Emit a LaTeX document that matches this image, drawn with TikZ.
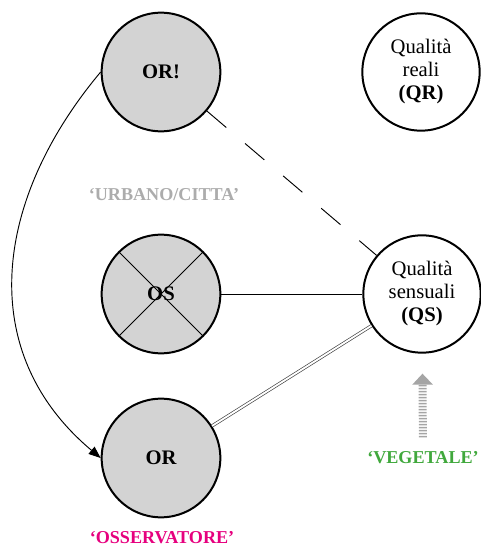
\documentclass[tikz,border=0pt]{standalone}
\usepackage{fontspec}
\setmainfont{Liberation Serif}
\usetikzlibrary{arrows.meta}
\definecolor{fillgray}{RGB}{211,211,211}
\definecolor{urbangray}{RGB}{172,172,172}
\definecolor{greenveg}{RGB}{64,168,60}
\definecolor{magentaobs}{RGB}{230,0,126}
\definecolor{arrowgray}{RGB}{165,165,165}

\begin{document}
\begin{tikzpicture}[x=0.75pt, y=0.75pt,
    obj/.style={circle, draw, line width=1.5pt, fill=fillgray,
                minimum size=89pt, inner sep=0pt,
                font=\fontsize{15.5}{17.25}\selectfont\bfseries},
    qual/.style={circle, draw, line width=1.5pt, fill=white,
                 minimum size=88pt, inner sep=0pt, align=center,
                 font=\fontsize{15.5}{17.25}\selectfont},
    tag/.style={font=\fontsize{13.6}{15}\selectfont\bfseries}]
    \useasboundingbox (0, 0) rectangle (481, 547);

    \node[obj] (ORx) at (161, 475) {OR!};
    \node[qual] (QR) at (421, 475) {Qualità\\reali\\\textbf{(QR)}};
    \node[obj, path picture={
        \draw[line width=0.6pt] (path picture bounding box.north west) --
                                (path picture bounding box.south east);
        \draw[line width=0.6pt] (path picture bounding box.north east) --
                                (path picture bounding box.south west);
      }] (OS) at (161, 253) {OS};
    \node[qual] (QS) at (422, 253) {Qualità\\sensuali\\\textbf{(QS)}};
    \node[obj] (OR) at (161, 89) {OR};

    \node[tag, text=urbangray] (urb) at (164, 352) {‘URBANO/CITTA’};
    \node[tag, text=greenveg] (veg) at (423, 89) {‘VEGETALE’};
    \node[tag, text=magentaobs] (obs) at (162, 9) {‘OSSERVATORE’};

    \draw[line width=0.7pt, dash pattern=on 19pt off 18.5pt] (ORx) -- (QS);
    \draw[line width=0.7pt] (OS) -- (QS);
    \draw[line width=0.5pt, draw=black!75, double, double distance=1.4pt]
        (OR) -- (QS);
    \draw[line width=0.7pt, -{Triangle[length=9pt, width=7pt]}]
        (ORx.west) to[out=230, in=140, looseness=1.1] (OR.west);

    \draw[draw=arrowgray, line width=6pt, dash pattern=on 1.2pt off 1.05pt,
          -{Triangle[length=8.25pt, width=15pt]},
          shorten <=7.3pt, shorten >=15pt] (veg) -- (QS);
\end{tikzpicture}
\end{document}
